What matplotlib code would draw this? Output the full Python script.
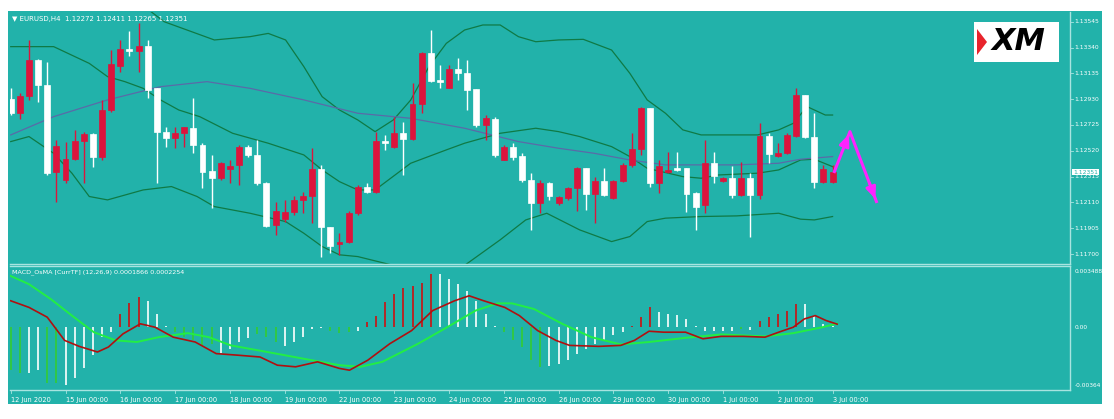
import matplotlib
matplotlib.use("Agg")
import matplotlib.pyplot as plt
from matplotlib.patches import Rectangle, Polygon
import numpy as np

# ---------------- data ----------------
opens = [1.12929,1.12818,1.12958,1.13241,1.13043,1.12355,1.12289,1.12453,1.12598,1.12654,
         1.12474,1.12844,1.13193,1.13326,1.13315,1.13352,1.13016,1.12672,1.12619,1.12664,
         1.12704,1.12566,1.12363,1.12302,1.12376,1.12408,1.12548,1.12487,1.12262,1.11929,
         1.11979,1.12030,1.12130,1.12157,1.12373,1.11918,1.11781,1.11799,1.12024,1.12236,
         1.12196,1.12601,1.12548,1.12664,1.12611,1.12892,1.13294,1.13082,1.13021,1.13167,
         1.13140,1.13008,1.12725,1.12775,1.12447,1.12553,1.12479,1.12289,1.12104,1.12268,
         1.12104,1.12143,1.12228,1.12387,1.12175,1.12283,1.12143,1.12283,1.12408,1.12535,
         1.12857,1.12262,1.12355,1.12381,1.12381,1.12188,1.12090,1.12421,1.12283,1.12302,
         1.12170,1.12307,1.12170,1.12638,1.12479,1.12506,1.12638,1.12963,1.12633,1.12270,
         1.12272]
highs = [1.13016,1.12976,1.13400,1.13246,1.13228,1.12606,1.12593,1.12685,1.12672,1.12659,
         1.12923,1.13320,1.13400,1.13474,1.13532,1.13400,1.13016,1.12712,1.12712,1.12712,
         1.12937,1.12580,1.12487,1.12434,1.12447,1.12566,1.12566,1.12606,1.12275,1.12117,
         1.12130,1.12157,1.12196,1.12540,1.12408,1.11918,1.11865,1.12038,1.12249,1.12262,
         1.12672,1.12646,1.12791,1.12752,1.13056,1.13307,1.13479,1.13201,1.13201,1.13254,
         1.13241,1.13008,1.12804,1.12791,1.12566,1.12585,1.12500,1.12342,1.12289,1.12275,
         1.12157,1.12236,1.12394,1.12387,1.12315,1.12381,1.12289,1.12421,1.12659,1.12871,
         1.12857,1.12447,1.12514,1.12514,1.12381,1.12196,1.12606,1.12514,1.12315,1.12400,
         1.12434,1.12342,1.12738,1.12659,1.12580,1.12659,1.13016,1.12963,1.12818,1.12408,
         1.12411]
lows = [1.12804,1.12770,1.12923,1.12910,1.12328,1.12117,1.12262,1.12447,1.12262,1.12394,
        1.12447,1.12831,1.13148,1.13273,1.13148,1.12937,1.12262,1.12553,1.12540,1.12553,
        1.12500,1.12223,1.12064,1.12289,1.12262,1.12249,1.12474,1.12249,1.11918,1.11852,
        1.11958,1.12011,1.12024,1.11945,1.11680,1.11707,1.11694,1.11786,1.12011,1.12183,
        1.12183,1.12527,1.12540,1.12328,1.12606,1.12818,1.13069,1.13016,1.13016,1.13082,
        1.12844,1.12712,1.12606,1.12474,1.12447,1.12447,1.12275,1.11892,1.12024,1.12130,
        1.12090,1.12130,1.12038,1.12051,1.11945,1.12157,1.12135,1.12275,1.12394,1.12487,
        1.12236,1.12188,1.12342,1.12363,1.12030,1.11892,1.12024,1.12262,1.12275,1.12143,
        1.12157,1.11839,1.12135,1.12421,1.12474,1.12495,1.12633,1.12625,1.12223,1.12262,
        1.12265]
closes = [1.12818,1.12958,1.13241,1.13043,1.12342,1.12558,1.12453,1.12598,1.12654,1.12469,
          1.12844,1.13209,1.13326,1.13315,1.13352,1.13003,1.12672,1.12619,1.12664,1.12707,
          1.12566,1.12355,1.12302,1.12421,1.12402,1.12548,1.12487,1.12262,1.11924,1.12038,
          1.12030,1.12130,1.12157,1.12373,1.11918,1.11760,1.11799,1.12024,1.12236,1.12196,
          1.12601,1.12580,1.12664,1.12611,1.12892,1.13294,1.13074,1.13066,1.13167,1.13135,
          1.13003,1.12725,1.12778,1.12487,1.12553,1.12474,1.12289,1.12104,1.12268,1.12157,
          1.12151,1.12228,1.12387,1.12175,1.12283,1.12170,1.12283,1.12408,1.12535,1.12857,
          1.12262,1.12400,1.12368,1.12368,1.12175,1.12077,1.12421,1.12320,1.12302,1.12170,
          1.12307,1.12170,1.12638,1.12495,1.12506,1.12646,1.12963,1.12627,1.12275,1.12373,
          1.12351]

bb_upper_x = [14,16.8,22.3,26.2,28.2,30.1,32.1,34.1,36.0,38.0,39.9,41.9,43.8,45.8,47.7,49.7,51.7,53.6,
              55.6,57.5,60,62.7,65.8,67.8,69.7,71.7,73.6,75.6,79.5,81.8,84.1,85.7,87.2,89.2,90]
bb_upper_y = [1.1370,1.13545,1.13400,1.13426,1.13452,1.13400,1.13188,1.12950,1.12844,1.12765,1.12672,
              1.12765,1.12923,1.13188,1.13373,1.13479,1.13519,1.13519,1.13426,1.13386,1.13400,1.13405,
              1.13320,1.13135,1.12924,1.12818,1.12686,1.12646,1.12646,1.12646,1.12686,1.12738,1.12871,
              1.12804,1.12804]
bb_mid_x = [0,4.7,8.6,10.6,12.5,14.5,16.4,18.4,20.7,24.3,28.2,32.1,34.1,36.0,38.0,39.9,43.8,47.7,49.7,
            53.6,57.5,60,62.3,65.8,67.8,69.7,73.6,75.6,77.5,81.8,84.1,86.5,88.0,90]
bb_mid_y = [1.13347,1.13347,1.13214,1.13109,1.13069,1.13016,1.12924,1.12844,1.12791,1.12659,1.12580,
            1.12487,1.12368,1.12275,1.12209,1.12209,1.12421,1.12527,1.12580,1.12659,1.12699,1.12672,
            1.12633,1.12553,1.12474,1.12381,1.12315,1.12302,1.12328,1.12342,1.12368,1.12447,1.12453,
            1.12394]
bb_low_x = [0,2,4.7,6.7,8.6,10.6,14.5,17.6,20.4,22.3,26.2,30.1,32.1,34.1,36.0,38.0,41.9,49.7,53.6,56.4,
            58.7,62.3,65.8,67.8,69.7,71.7,75.6,79.5,84.1,86.5,88,90]
bb_low_y = [1.12593,1.12633,1.12500,1.12342,1.12157,1.12130,1.12209,1.12236,1.12157,1.12077,1.12024,
            1.11958,1.11865,1.11760,1.11694,1.11680,1.11610,1.11610,1.11813,1.11971,1.12024,1.11892,
            1.11799,1.11839,1.11958,1.11985,1.11998,1.12003,1.12024,1.11977,1.11971,1.11998]
ma_x = [0,4.7,10.6,16.4,21.5,26.2,32.1,38,43.8,49.7,55.6,60,63.9,67.8,71.7,75.6,79.5,84.1,86.5,90]
ma_y = [1.12646,1.12791,1.12924,1.13029,1.13069,1.13016,1.12924,1.12818,1.12778,1.12699,1.12593,
        1.12540,1.12500,1.12447,1.12408,1.12408,1.12408,1.12421,1.12453,1.12474]

arrow_x = [90.2, 91.9, 94.8]
arrow_y = [1.12355, 1.12672, 1.12117]

hist = [-0.00267,-0.00287,-0.00287,-0.00267,-0.00349,-0.00349,-0.00359,-0.00318,-0.00256,-0.00174,
        -0.00062,-0.00031,0.00082,0.00148,0.00189,0.00160,0.00082,0.00010,-0.00031,-0.00062,
        -0.00082,-0.00113,-0.00103,-0.00160,-0.00133,-0.00092,-0.00066,-0.00041,-0.00062,-0.00092,
        -0.00119,-0.00092,-0.00062,-0.00010,-0.00006,-0.00025,-0.00037,-0.00031,-0.00025,0.00031,
        0.00072,0.00154,0.00205,0.00242,0.00256,0.00277,0.00332,0.00328,0.00297,0.00267,
        0.00226,0.00164,0.00082,0.00010,-0.00031,-0.00082,-0.00123,-0.00205,-0.00246,-0.00242,
        -0.00226,-0.00205,-0.00164,-0.00133,-0.00103,-0.00082,-0.00051,-0.00031,0.00010,0.00062,
        0.00127,0.00092,0.00082,0.00076,0.00051,0.00010,-0.00021,-0.00021,-0.00021,-0.00021,
        -0.00010,-0.00016,0.00041,0.00062,0.00082,0.00103,0.00144,0.00144,0.00072,0.00021,0.00010]
hist_kind = list("ggwwggwwwwwwrrrwwwgggggwwwwgggwwwwwgggwrrrrrrrrwwwwwwwgggggwwwwwwwwwrrrwwwwwwwwwgwrrrrrwwww")

macd_x = [0,2,4,5.9,7.5,9.5,10.7,12.3,14.2,15.8,17.8,20.2,22.5,24.9,27.3,29.2,31.2,33.6,36,37.1,39.1,
          41.5,43.9,46.2,48.6,50.2,51.8,54.1,55.7,57.7,59.7,61.2,64.4,66.8,68.3,69.9,71.5,73.9,75.8,
          77.8,80.2,82.6,84.1,85.7,86.9,88.1,89.3,90.5]
macd_y = [0.00164,0.00123,0.00062,-0.00082,-0.00119,-0.00154,-0.00123,-0.00041,0.00021,0.0,-0.00062,
          -0.00092,-0.00164,-0.00174,-0.00185,-0.00236,-0.00246,-0.00215,-0.00256,-0.00267,-0.00205,
          -0.00103,-0.00021,0.00103,0.00164,0.00195,0.00164,0.00123,0.00072,-0.00021,-0.00082,-0.00113,
          -0.00119,-0.00113,-0.00082,-0.00025,-0.00031,-0.00031,-0.00072,-0.00057,-0.00057,-0.00062,
          -0.00031,0.0,0.00051,0.00072,0.00041,0.00019]
sig_x = [0,2,4.4,6.7,9.1,11.5,13.8,16.2,19.4,21.7,24.1,28.1,32,36,38.3,40.7,44.6,47.8,50.9,53.3,54.9,
         57.3,60.4,63.6,66.8,69.9,73.9,77.8,82.6,85.7,88.9,90.5]
sig_y = [0.00318,0.00267,0.00174,0.00072,-0.00031,-0.00082,-0.00092,-0.00062,-0.00037,-0.00062,
         -0.00113,-0.00154,-0.00195,-0.00236,-0.00246,-0.00215,-0.00103,0.0,0.00103,0.00148,0.00148,
         0.00113,0.00021,-0.00062,-0.00107,-0.00092,-0.00066,-0.00045,-0.00057,-0.00037,0.0,0.00023]

price_ticks = [1.13545,1.13340,1.13135,1.12930,1.12725,1.12520,1.12315,1.12110,1.11905,1.11700]
date_labels = ["12 Jun 2020","15 Jun 00:00","16 Jun 00:00","17 Jun 00:00","18 Jun 00:00","19 Jun 00:00",
               "22 Jun 00:00","23 Jun 00:00","24 Jun 00:00","25 Jun 00:00","26 Jun 00:00","29 Jun 00:00",
               "30 Jun 00:00","1 Jul 00:00","2 Jul 00:00","3 Jul 00:00"]
date_pos = [0,6,12,18,24,30,36,42,48,54,60,66,72,78,84,90]
macd_ticks = [0.003488, 0.0, -0.00364]
macd_tick_labels = ["0.003488", "0.00", "-0.00364"]

# ---------------- style ----------------
TEAL = "#22b2aa"
BORDER = "#a8e4e0"
W, H = 1114, 419
fig = plt.figure(figsize=(W/100, H/100), dpi=100, facecolor="white")
bg = fig.add_axes([8/W, 1-404/H, 1094/W, 393/H], zorder=-5)
bg.set_facecolor(TEAL); bg.set_xticks([]); bg.set_yticks([])
for s in bg.spines.values():
    s.set_visible(False)

def ax_rect(x0, y0, x1, y1):
    return [x0/W, 1-y1/H, (x1-x0)/W, (y1-y0)/H]

ax = fig.add_axes(ax_rect(10, 12, 1070, 264))
ax2 = fig.add_axes(ax_rect(10, 266, 1070, 390))
XL = (-0.08, 116.0)
for a in (ax, ax2):
    a.set_facecolor(TEAL)
    a.set_xlim(*XL)
    a.set_xticks([]); a.set_yticks([])
    for s in a.spines.values():
        s.set_color(BORDER); s.set_linewidth(1)
    a.spines['left'].set_visible(False)
ax.spines['top'].set_visible(False)

ax.set_ylim(1.11621, 1.13622)
ax2.set_ylim(-0.0039, 0.0038)

# candles
bw = 0.65
for i, (o, h, l, c) in enumerate(zip(opens, highs, lows, closes)):
    col = "#dc143c" if c >= o else "white"
    ax.vlines(i, l, h, color=col, lw=1, zorder=3)
    lo, hi = min(o, c), max(o, c)
    ax.add_patch(Rectangle((i-bw/2, lo), bw, max(hi-lo, 0.000025), facecolor=col,
                           edgecolor=col, lw=0.5, zorder=4))

ax.plot(bb_upper_x, bb_upper_y, color="#0f7a45", lw=0.9, zorder=2)
ax.plot(bb_mid_x, bb_mid_y, color="#0f7a45", lw=0.9, zorder=2)
ax.plot(bb_low_x, bb_low_y, color="#0f7a45", lw=0.9, zorder=2)
ax.plot(ma_x, ma_y, color="#5a6aa8", lw=0.9, zorder=2)

# magenta arrows
MAG = "#ff22ff"
ax.plot(arrow_x, arrow_y, color=MAG, lw=2.2, zorder=5)
for k in (1, 2):
    x0, y0 = arrow_x[k-1], arrow_y[k-1]
    x1, y1 = arrow_x[k], arrow_y[k]
    ax.annotate("", xy=(x1, y1), xytext=(x0 + 0.7*(x1-x0), y0 + 0.7*(y1-y0)),
                arrowprops=dict(arrowstyle="-|>,head_width=0.3,head_length=0.7", color=MAG, lw=2),
                zorder=6)

# price axis labels
for p in price_ticks:
    ax.text(1.004, p, f"{p:.5f}", transform=ax.get_yaxis_transform(), color="white",
            fontsize=4.3, va="center", ha="left", clip_on=False)
    ax.plot([1.0, 1.003], [p, p], transform=ax.get_yaxis_transform(), color=BORDER, lw=0.6, clip_on=False)
ax.text(1.003, closes[-1], f"{closes[-1]:.5f}", transform=ax.get_yaxis_transform(), color=TEAL,
        fontsize=4.3, va="center", ha="left", clip_on=False, zorder=10,
        bbox=dict(boxstyle="square,pad=0.15", facecolor="white", edgecolor="none"))

ax.text(0.002, 0.985, "\u25bc EURUSD,H4  1.12272 1.12411 1.12265 1.12351", transform=ax.transAxes,
        color="white", fontsize=5, va="top", ha="left")

# XM logo
fig.patches.append(Rectangle((974/W, 1-62/H), 85/W, 40/H, transform=fig.transFigure,
                             facecolor="white", edgecolor="none", zorder=20))
fig.text((974+1062)/2/W, 1-42/H, "XM", fontsize=22, fontweight="bold", style="italic",
         color="black", ha="center", va="center", family="DejaVu Sans", zorder=21)
fig.patches.append(Polygon([(977/W, 1-29/H), (987/W, 1-42/H), (977/W, 1-55/H)], closed=True,
                           transform=fig.transFigure, facecolor="#e8242c", edgecolor="none", zorder=22))

# MACD
cmap = {"g": "#33cc33", "w": "white", "r": "#cc1111"}
for i, (v, k) in enumerate(zip(hist, hist_kind)):
    ax2.vlines(i, 0, v, color=cmap[k], lw=1.2, zorder=2)
ax2.plot(sig_x, sig_y, color="#22ee44", lw=1.4, zorder=3)
ax2.plot(macd_x, macd_y, color="#b01010", lw=1.2, zorder=4)
ax2.text(0.002, 0.97, "MACD_OsMA [CurrTF] (12,26,9) 0.0001866 0.0002254", transform=ax2.transAxes,
         color="white", fontsize=4.6, va="top", ha="left")
for v, lab in zip(macd_ticks, macd_tick_labels):
    ax2.text(1.004, v, lab, transform=ax2.get_yaxis_transform(), color="white", fontsize=4.2,
             va="center", ha="left", clip_on=False)

for pos, lab in zip(date_pos, date_labels):
    ax2.text(pos, -0.055, lab, transform=ax2.get_xaxis_transform(), color="white", fontsize=4.8,
             va="top", ha="left", clip_on=False)
    ax2.plot([pos, pos], [0, -0.025], transform=ax2.get_xaxis_transform(), color=BORDER, lw=0.6,
             clip_on=False)

fig.savefig("out.png", dpi=100, facecolor="white")
